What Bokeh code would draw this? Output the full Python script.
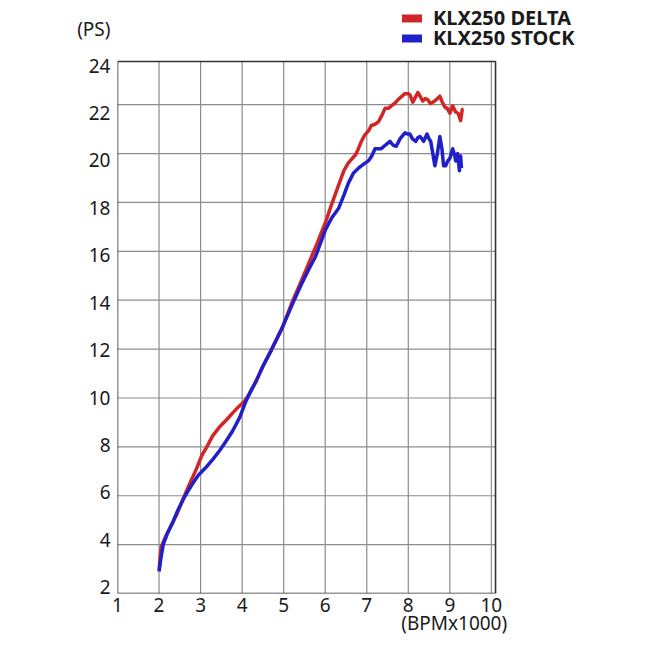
import numpy as np
from bokeh.plotting import figure
from bokeh.models import Range1d, FixedTicker, Legend, LegendItem, LinearAxis
from bokeh.embed import file_html
from bokeh.resources import INLINE

# ---- data ----
x_ticks = [1, 2, 3, 4, 5, 6, 7, 8, 9, 10]
y_ticks = [2, 4, 6, 8, 10, 12, 14, 16, 18, 20, 22, 24]
x_title = "(BPMx1000)"
y_title = "(PS)"

delta_rpm = [2.0, 2.05, 2.15, 2.3, 2.43, 2.6, 2.74, 2.9, 3.03, 3.15, 3.29, 3.45, 3.62, 3.78,
             3.89, 4.05, 4.15, 4.34, 4.5, 4.7, 4.96, 5.2, 5.44, 5.6, 5.8, 6.01, 6.15, 6.32,
             6.45, 6.55, 6.65, 6.73, 6.8, 6.87, 6.95, 7.05, 7.11, 7.2, 7.28, 7.36, 7.44, 7.52,
             7.59, 7.67, 7.75, 7.85, 7.92, 8.0, 8.04, 8.11, 8.17, 8.23, 8.3, 8.35, 8.41, 8.47,
             8.53, 8.59, 8.67, 8.76, 8.82, 8.88, 8.94, 9.0, 9.07, 9.14, 9.2, 9.26, 9.3, 9.33]
delta_ps = [2.95, 3.9, 4.3, 4.8, 5.25, 5.95, 6.5, 7.1, 7.65, 8.0, 8.45, 8.8, 9.1, 9.4,
            9.6, 9.85, 10.1, 10.7, 11.3, 11.95, 12.85, 13.9, 14.85, 15.5, 16.3, 17.2, 17.9, 18.7,
            19.3, 19.6, 19.8, 19.95, 20.2, 20.5, 20.75, 20.95, 21.15, 21.2, 21.3, 21.55, 21.85, 21.85,
            21.95, 22.05, 22.2, 22.35, 22.45, 22.45, 22.4, 22.1, 22.3, 22.5, 22.3, 22.15, 22.25, 22.2,
            22.05, 22.1, 22.2, 22.35, 22.1, 21.9, 21.85, 21.65, 21.95, 21.7, 21.65, 21.35, 21.8, 21.8]

stock_rpm = [2.0, 2.05, 2.1, 2.2, 2.34, 2.45, 2.58, 2.7, 2.81, 2.95, 3.15, 3.3, 3.46, 3.6,
             3.77, 3.88, 3.94, 4.02, 4.1, 4.2, 4.34, 4.5, 4.7, 4.96, 5.2, 5.44, 5.6, 5.77,
             5.9, 6.01, 6.15, 6.32, 6.45, 6.56, 6.68, 6.8, 6.95, 7.04, 7.12, 7.2, 7.28, 7.35,
             7.45, 7.56, 7.63, 7.71, 7.8, 7.92, 7.98, 8.04, 8.1, 8.18, 8.23, 8.28, 8.33, 8.37,
             8.41, 8.45, 8.5, 8.54, 8.59, 8.64, 8.7, 8.76, 8.81, 8.85, 8.9, 8.95, 9.0, 9.07,
             9.12, 9.14, 9.19, 9.23, 9.26, 9.28]
stock_ps = [2.9, 3.5, 4.0, 4.45, 4.95, 5.4, 5.85, 6.2, 6.5, 6.85, 7.2, 7.5, 7.85, 8.2,
            8.65, 9.0, 9.2, 9.55, 9.9, 10.25, 10.7, 11.3, 11.95, 12.85, 13.8, 14.7, 15.25, 15.8,
            16.4, 16.9, 17.35, 17.75, 18.3, 18.8, 19.2, 19.4, 19.6, 19.7, 19.9, 20.2, 20.2, 20.2,
            20.35, 20.5, 20.35, 20.3, 20.6, 20.85, 20.8, 20.8, 20.6, 20.5, 20.65, 20.7, 20.6, 20.5,
            20.65, 20.8, 20.6, 20.5, 20.0, 19.5, 20.0, 20.7, 20.2, 19.5, 19.5, 19.7, 19.8, 20.2,
            19.9, 19.7, 20.0, 19.3, 19.9, 19.4]

series_names = ["KLX250 DELTA", "KLX250 STOCK"]
series_colors = ["#d02626", "#2020c8"]

# ---- chart box extent (data units) ----
X0, X1 = 1.0, 10.1
Y0, Y1 = 2.0, 23.77

FONT = "Noto Sans"
TXT = "#1a1a1a"

p = figure(width=650, height=650, output_backend="svg", toolbar_location=None,
           x_range=Range1d(X0, 12.266), y_range=Range1d(Y0, 26.263),
           x_axis_location=None, y_axis_location=None,
           min_border_left=117, min_border_right=65, min_border_top=0, min_border_bottom=57)
p.title.visible = False
p.outline_line_color = None
p.background_fill_color = "white"
p.border_fill_color = "white"
p.xgrid.visible = False
p.ygrid.visible = False

# the tick labels of the printed chart sit on a slightly compressed scale of their own
p.extra_y_ranges = {"labels": Range1d(1.734, 26.745)}

xaxis = LinearAxis(ticker=FixedTicker(ticks=x_ticks))
xaxis_title = LinearAxis(ticker=FixedTicker(ticks=[9.105]),
                         major_label_overrides={9.105: x_title})
yaxis = LinearAxis(y_range_name="labels", ticker=FixedTicker(ticks=y_ticks + [25.56]),
                   major_label_overrides={25.56: y_title})
for ax in (xaxis, xaxis_title, yaxis):
    ax.axis_line_color = None
    ax.major_tick_line_color = None
    ax.minor_tick_line_color = None
    ax.major_tick_in = 0
    ax.major_tick_out = 0
    ax.major_label_text_font = FONT
    ax.major_label_text_font_size = "19px"
    ax.major_label_text_color = TXT
xaxis.major_label_standoff = 4
xaxis_title.major_label_standoff = -5
yaxis.major_label_standoff = 7
p.add_layout(xaxis, "below")
p.add_layout(xaxis_title, "below")
p.add_layout(yaxis, "left")

# grid lines inside the chart box
gx = [t for t in x_ticks if X0 < t < X1]
gy = [t for t in y_ticks if Y0 < t < Y1]
p.segment(x0=gx, y0=[Y0] * len(gx), x1=gx, y1=[Y1] * len(gx), line_color="#8c8c8c", line_width=1.2)
p.segment(x0=[X0] * len(gy), y0=gy, x1=[X1] * len(gy), y1=gy, line_color="#8c8c8c", line_width=1.2)

p.line(delta_rpm, delta_ps, line_color=series_colors[0], line_width=3.5, line_join="round")
p.line(stock_rpm, stock_ps, line_color=series_colors[1], line_width=3.5, line_join="round")

# chart box outline
p.quad(left=[X0], right=[X1], bottom=[Y0], top=[Y1], fill_color=None,
       line_color="#333333", line_width=1.6)

# legend (one legend per row for precise placement)
legend_y = [562, 542]
for name, col, vy in zip(series_names, series_colors, legend_y):
    r = p.rect(x=[np.nan], y=[np.nan], width=1, height=1, fill_color=col, line_color=None)
    lg = Legend(items=[LegendItem(label=name, renderers=[r])], location=(282, vy),
                padding=0, margin=0, border_line_color=None, background_fill_alpha=0,
                glyph_width=25, glyph_height=10, label_standoff=9, label_height=20,
                label_text_font=FONT, label_text_font_size="20px", label_text_font_style="bold",
                label_text_color=TXT, label_text_baseline="middle")
    p.add_layout(lg)

open("out.html", "w").write(file_html(p, INLINE))
